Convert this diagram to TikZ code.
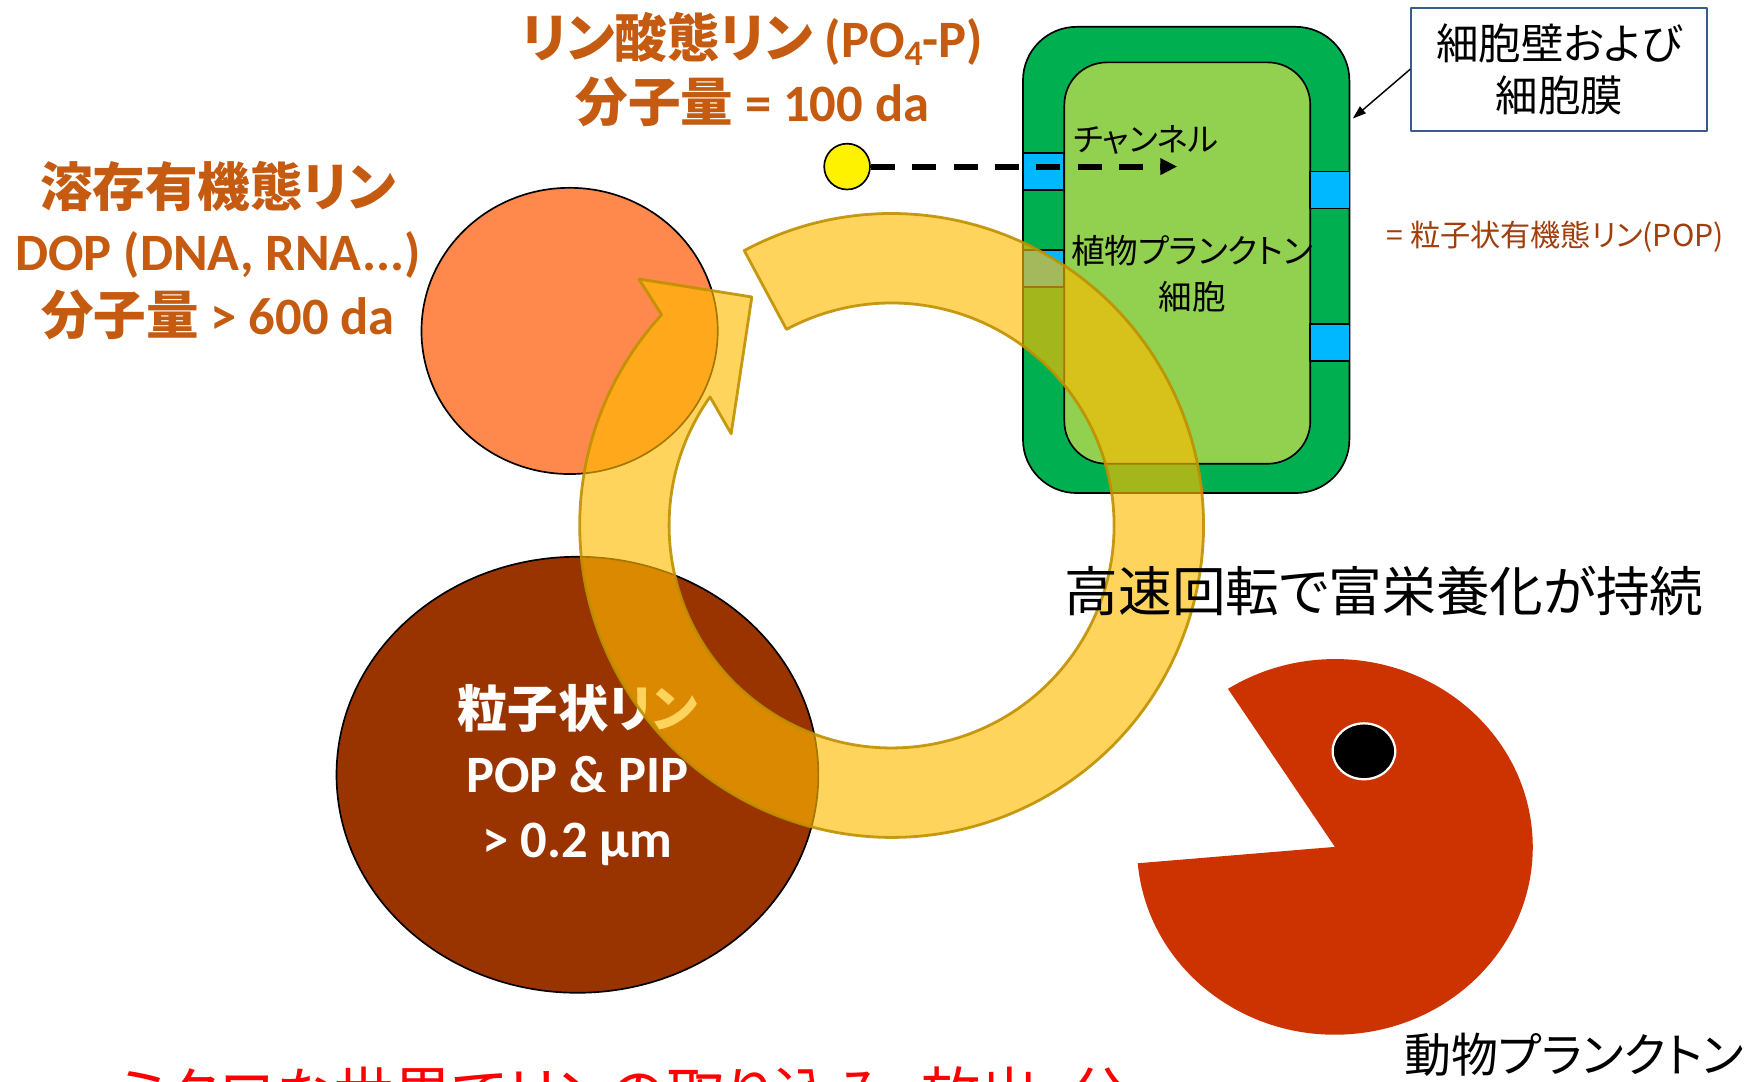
\documentclass[tikz,border=0pt]{standalone}
\usepackage{fontspec}
\setmainfont{Carlito}
\newfontfamily\jp{Noto Sans CJK JP}[RawFeature=+palt]
\usepackage{tikz}
\usetikzlibrary{shapes.geometric,arrows.meta,positioning,calc}

\definecolor{titleorange}{RGB}{197,90,17}
\definecolor{dopfill}{RGB}{255,136,76}
\definecolor{popfill}{RGB}{153,51,0}
\definecolor{wallgreen}{RGB}{0,176,80}
\definecolor{cellgreen}{RGB}{146,208,80}
\definecolor{channelblue}{RGB}{0,184,255}
\definecolor{zoofill}{RGB}{204,51,0}
\definecolor{ringfill}{RGB}{255,187,0}
\definecolor{ringline}{RGB}{191,144,0}
\definecolor{boxline}{RGB}{56,93,138}
\definecolor{popnote}{RGB}{160,62,12}

\begin{document}
\begin{tikzpicture}[
    x=1pt, y=-1pt,
    line join=round,
    outline/.style={draw=black, line width=1.5pt},
    title/.style={inner sep=0pt, align=center, text=titleorange,
        font=\fontsize{47}{57}\selectfont\bfseries},
    jptext/.style={inner sep=0pt, align=center},
    channel/.style={outline, fill=channelblue, minimum width=#1, minimum height=33, inner sep=0pt},
    ring/.style={fill=ringfill, fill opacity=0.64, draw=ringline, draw opacity=0.9, line width=2.5pt},
    uptake/.style={line width=5.5pt, dash pattern=on 21.5pt off 15.5pt,
        -{Triangle[length=15pt, width=14pt]}},
    pointer/.style={line width=1.3pt, -{Triangle[length=12pt, width=8pt]}},
]
\useasboundingbox (0,0) rectangle (1568,967);

% dissolved and particulate P
\node[ellipse, outline, fill=dopfill, minimum width=265, minimum height=256] (dop) at (509.5,296) {};
\node[ellipse, outline, fill=popfill, minimum width=431, minimum height=390, text=white,
      align=center, font=\fontsize{47}{58}\selectfont\bfseries] (pop) at (516.5,693)
  {{\jp\fontsize{45}{58}\selectfont 粒子状リン}\\POP \& PIP\\> 0.2 μm};

% phytoplankton cell
\node[outline, fill=wallgreen, rounded corners=48, minimum width=292, minimum height=417] (wall) at (1061,232.5) {};
\node[outline, fill=cellgreen, rounded corners=38, minimum width=220, minimum height=359] (cell) at (1062,235.3) {};
\node[channel=37] (ch1) at (933.5,153.5) {};
\node[channel=37] (ch2) at (933.5,240) {};
\node[channel=35] (ch3) at (1189.5,170) {};
\node[channel=35] (ch4) at (1189.5,306.5) {};
\node[jptext, font=\jp\fontsize{29}{35}\selectfont] (chlabel) at (1025,125) {チャンネル};
\node[jptext, font=\jp\fontsize{30}{41}\selectfont] (phyto) at (1066.5,245) {植物プランクトン\\細胞};

% PO4 uptake through the channel
\node[circle, outline, fill=yellow, minimum size=41, inner sep=0pt] (po4) at (757.7,149) {};
\coordinate (uptake end) at (1053,149);
\draw[uptake] (po4.east) -- (uptake end);

% wall / membrane callout
\node[draw=boxline, line width=1.8pt, minimum width=265, minimum height=110, align=center,
      font=\jp\fontsize{38}{46}\selectfont] (membrane) at (1394.7,62) {細胞壁および\\細胞膜};
\coordinate (wall point) at (1210,106);
\draw[pointer] (membrane.west) -- (wall point);

\node[anchor=west, inner sep=0pt, text=popnote, font=\jp\fontsize{27}{33}\selectfont] (pop note) at (1240,212)
  {= 粒子状有機態リン(POP)};

% zooplankton
\coordinate (zoo) at (1194,757.5);
\fill[zoofill] (zoo) -- ($(zoo)+(175:177 and 168)$)
  arc[start angle=175, end angle=-122.7, x radius=177, y radius=168] -- cycle;
\node[ellipse, fill=black, draw=white, line width=2pt, minimum width=56, minimum height=50, inner sep=0pt] (eye) at (1220,672) {};

% recycling loop
\coordinate (loop) at (797.5,470);
\draw[ring] ($(loop)+(-118.2:279)$) arc[start angle=-118.2, end angle=222.5, radius=279]
  -- (571.5,249.6) -- (672.5,265.6) -- (654,388)
  -- ($(loop)+(215.3:199)$) arc[start angle=215.3, end angle=-118.2, radius=199] -- cycle;

% labels
\node[title] (po4 label) at (673,62)
  {{\jp リン酸態リン} (PO\raisebox{-7pt}{\fontsize{32}{32}\selectfont 4}-P)\\{\jp 分子量} = 100 da};
\node[title] (dop label) at (195,224)
  {{\jp 溶存有機態リン}\\DOP (DNA, RNA...)\\{\jp 分子量} > 600 da};
\node[jptext, font=\jp\fontsize{48}{58}\selectfont] (turnover) at (1238,528.5) {高速回転で富栄養化が持続};
\node[jptext, font=\jp\fontsize{42}{50}\selectfont] (zoo label) at (1408,943) {動物プランクトン};
\node[anchor=base west, inner sep=0pt, text=red, font=\jp\fontsize{53}{64}\selectfont] (micro) at (104,999)
  {ミクロな世界でリンの取り込み、放出、分};
\end{tikzpicture}
\end{document}
